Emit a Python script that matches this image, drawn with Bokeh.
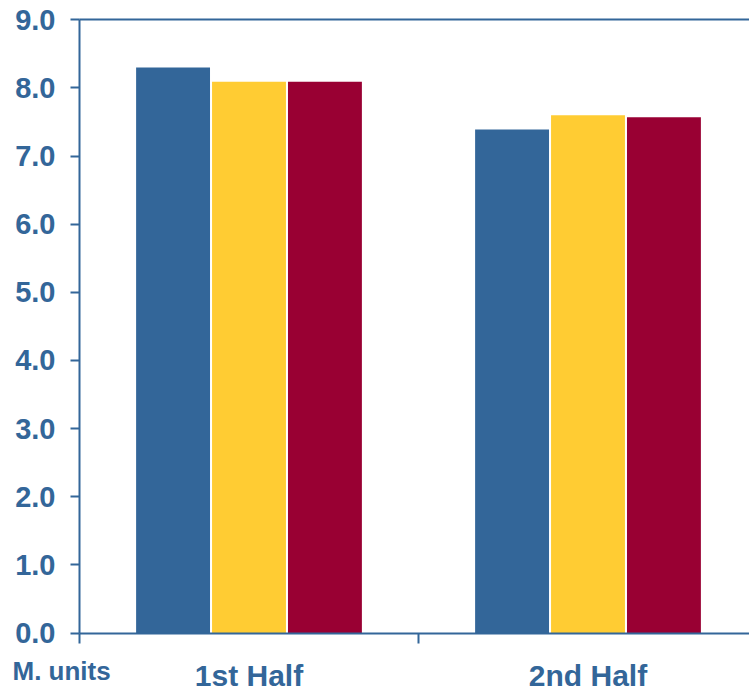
from bokeh.plotting import figure
from bokeh.models import Range1d, FixedTicker, Label, ColumnDataSource, LinearAxis
from bokeh.embed import file_html
from bokeh.resources import INLINE

categories = ["1st Half", "2nd Half"]
series_blue = [8.30, 7.39]
series_yellow = [8.09, 7.60]
series_red = [8.09, 7.57]
y_ticks = [0, 1, 2, 3, 4, 5, 6, 7, 8, 9]
y_tick_labels = ["0.0", "1.0", "2.0", "3.0", "4.0", "5.0", "6.0", "7.0", "8.0", "9.0"]
unit_label = "M. units"

TEXT = "#336699"
COLORS = ["#336699", "#FFCC33", "#990033"]
FONT = "Liberation Sans"

# layout constants (pixels)
W, H = 749, 692
AX_X = 79.0          # pixel x of the value axis
AX_Y0 = 632.5        # pixel y of value 0
AX_Y9 = 19.3         # pixel y of value 9
CAT_W = 339.0        # pixel width of one category
PPU = (AX_Y0 - AX_Y9) / 9.0

p = figure(width=W, height=H, output_backend="svg", toolbar_location=None,
           x_axis_location=None, y_axis_location=None,
           x_range=Range1d(-AX_X / CAT_W, (W - AX_X) / CAT_W),
           y_range=Range1d(-(H - AX_Y0) / PPU, 9 + AX_Y9 / PPU),
           min_border=0)
p.outline_line_color = None
p.grid.visible = False
p.background_fill_color = "white"
p.border_fill_color = "white"

centers = [i + 0.5 for i in range(len(categories))]
offsets = [-0.224, 0.0, 0.224]
for series, off, col in zip([series_blue, series_yellow, series_red], offsets, COLORS):
    src = ColumnDataSource(dict(x=[c + off for c in centers], top=series))
    p.vbar(x="x", top="top", bottom=0, width=0.218, source=src,
           fill_color=col, line_color=None)

# category axis at value 0
xa = LinearAxis(fixed_location=0, bounds=(0, len(categories)))
xa.ticker = FixedTicker(ticks=centers, minor_ticks=list(range(len(categories) + 1)))
xa.major_label_overrides = {c: n for c, n in zip(centers, categories)}
xa.major_tick_line_color = None
xa.major_tick_out = 0
xa.major_tick_in = 0
xa.minor_tick_line_color = TEXT
xa.minor_tick_line_width = 2
xa.minor_tick_out = 10
xa.minor_tick_in = 0
xa.axis_line_color = TEXT
xa.axis_line_width = 2
xa.major_label_text_font = FONT
xa.major_label_text_font_style = "bold"
xa.major_label_text_font_size = "30px"
xa.major_label_text_color = TEXT
xa.major_label_standoff = 16
p.add_layout(xa, "below")

# top border line at value 9
ta = LinearAxis(fixed_location=9, bounds=(0, len(categories)))
ta.ticker = FixedTicker(ticks=[], minor_ticks=[])
ta.major_tick_line_color = None
ta.minor_tick_line_color = None
ta.axis_line_color = TEXT
ta.axis_line_width = 2
p.add_layout(ta, "above")

# value axis
ya = LinearAxis(fixed_location=0, bounds=(0, 9))
ya.ticker = FixedTicker(ticks=y_ticks, minor_ticks=[])
ya.major_label_overrides = {t: l for t, l in zip(y_ticks, y_tick_labels)}
ya.major_tick_line_color = TEXT
ya.major_tick_line_width = 2
ya.major_tick_out = 9
ya.major_tick_in = 0
ya.axis_line_color = TEXT
ya.axis_line_width = 2
ya.major_label_text_font = FONT
ya.major_label_text_font_style = "bold"
ya.major_label_text_font_size = "29px"
ya.major_label_text_color = TEXT
ya.major_label_standoff = 15
p.add_layout(ya, "left")

p.add_layout(Label(x=12, y=H - 670.5, x_units="screen", y_units="screen",
                   text=unit_label, text_font=FONT, text_font_style="bold",
                   text_font_size="26px", text_color=TEXT,
                   text_baseline="middle", text_align="left"))

open("out.html", "w").write(file_html(p, INLINE))
